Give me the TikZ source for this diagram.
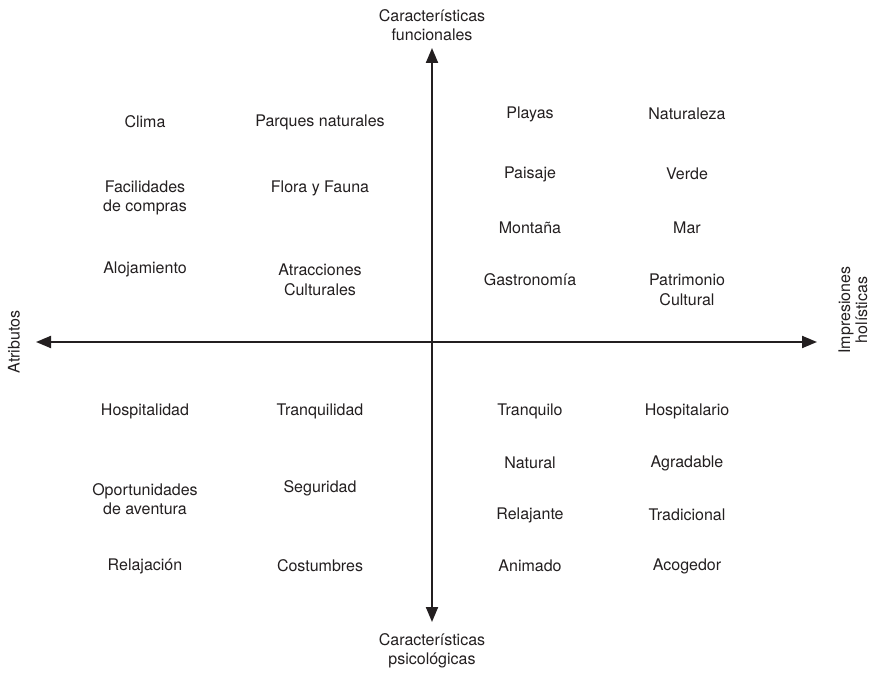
\documentclass[tikz,border=0pt]{standalone}
\usepackage{fontspec}
\setmainfont{TeX Gyre Heros}
\usepackage{xcolor}
\usepackage{tikz}
\usetikzlibrary{arrows.meta,positioning}
\definecolor{inkgray}{RGB}{35,31,32}

\begin{document}
\begin{tikzpicture}[x=1pt,y=-1pt,
    item/.style={text=inkgray,align=center,inner sep=0pt,
                 font=\fontsize{16}{19.5}\selectfont},
    axis/.style={draw=inkgray,line width=2pt,
                 {Triangle[length=15pt,width=12pt]}-{Triangle[length=15pt,width=12pt]}}]
    \useasboundingbox (0,0) rectangle (871,676);
    % axes
    \coordinate (top) at (432,48);
    \coordinate (bottom) at (432,622);
    \coordinate (left) at (36,342);
    \coordinate (right) at (817,342);
    \draw[axis] (top) -- (bottom);
    \draw[axis] (left) -- (right);
    \node[item] (funcional) at (432,25) {Características\\funcionales};
    \node[item] (psico) at (432,651) {Características\\psicológicas};
    \node[item,rotate=90] (atrib) at (14,342) {Atributos};
    \node[item,rotate=90,font=\fontsize{16}{17}\selectfont] (holis) at (853,310) {Impresiones\\holísticas};
    % upper left
    \node[item] (clima) at (145,122) {Clima};
    \node[item] (compras) at (145,198) {Facilidades\\de compras};
    \node[item] (aloja) at (145,269) {Alojamiento};
    \node[item] (parques) at (320,122) {Parques naturales};
    \node[item] (flora) at (320,188) {Flora y Fauna};
    \node[item] (atrac) at (320,280) {Atracciones\\Culturales};
    % upper right
    \node[item] (playas) at (530,114) {Playas};
    \node[item] (paisaje) at (530,174) {Paisaje};
    \node[item] (montana) at (530,228) {Montaña};
    \node[item] (gastro) at (530,280) {Gastronomía};
    \node[item] (natura) at (687,114) {Naturaleza};
    \node[item] (verde) at (687,174) {Verde};
    \node[item] (mar) at (687,228) {Mar};
    \node[item] (patri) at (687,290) {Patrimonio\\Cultural};
    % lower left
    \node[item] (hospi) at (145,411) {Hospitalidad};
    \node[item] (aventura) at (145,499) {Oportunidades\\de aventura};
    \node[item] (relaja) at (145,566) {Relajación};
    \node[item] (tranqd) at (320,411) {Tranquilidad};
    \node[item] (segur) at (320,488) {Seguridad};
    \node[item] (costum) at (320,566) {Costumbres};
    % lower right
    \node[item] (tranqo) at (530,411) {Tranquilo};
    \node[item] (natural) at (530,463) {Natural};
    \node[item] (relante) at (530,515) {Relajante};
    \node[item] (animado) at (530,566) {Animado};
    \node[item] (hosrio) at (687,411) {Hospitalario};
    \node[item] (agrada) at (687,463) {Agradable};
    \node[item] (tradi) at (687,515) {Tradicional};
    \node[item] (acoge) at (687,566) {Acogedor};
\end{tikzpicture}
\end{document}
